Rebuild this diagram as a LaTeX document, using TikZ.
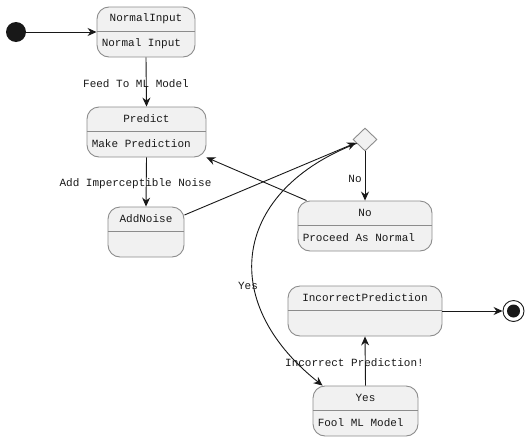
\documentclass[tikz,border=0pt]{standalone}
\usepackage{fontspec}
\setmonofont{Liberation Mono}
\usetikzlibrary{shapes.geometric,arrows.meta}
\definecolor{boxfill}{HTML}{F1F1F1}
\definecolor{boxline}{HTML}{8C8C8C}
\definecolor{ink}{HTML}{181818}
\tikzset{
  statebox/.style={draw=boxline,fill=boxfill,line width=0.9pt,rounded corners=12pt,inner sep=0pt},
  sepline/.style={draw=boxline,line width=0.9pt},
  txt/.style={font=\ttfamily\fontsize{11}{13}\selectfont,text=ink,inner sep=0pt},
  arr/.style={draw=ink,line width=0.9pt,-{Stealth[length=9pt,width=8pt,inset=3pt]}},
  choice/.style={shape=diamond,draw=boxline,fill=boxfill,line width=0.9pt,minimum width=24pt,minimum height=23pt,inner sep=0pt},
}
\newcommand{\mystate}[7]{%
  % #1 name, #2 cx, #3 cy, #4 w, #5 h, #6 title, #7 body
  \node[statebox,minimum width=#4pt,minimum height=#5pt] (#1) at (#2,#3) {};
  \draw[sepline] ([yshift=-25pt]#1.north west) -- ([yshift=-25pt]#1.north east);
  \node[txt] at ([yshift=-12.5pt]#1.north) {#6};
  \node[txt,anchor=west] at ([xshift=5pt,yshift=-37.5pt]#1.north west) {#7};
}
\begin{document}
\begin{tikzpicture}[x=1pt,y=-1pt]
\useasboundingbox (0,0) rectangle (529,442);
% start and end
\node[circle,fill=ink,minimum size=20pt,inner sep=0pt] (start) at (16,32) {};
\node[circle,draw=ink,line width=0.9pt,minimum size=21pt,inner sep=0pt] (end) at (513.5,311) {};
\node[circle,fill=ink,minimum size=13pt,inner sep=0pt] (endin) at (513.5,311) {};
% states
\mystate{NI}{146}{32}{98}{50}{NormalInput}{Normal Input}
\mystate{P}{146.5}{132}{119}{50}{Predict}{Make Prediction}
\mystate{AN}{146}{232}{76}{50}{AddNoise}{}
\mystate{No}{365}{226}{134}{50}{No}{Proceed As Normal}
\mystate{IP}{365}{311}{154}{50}{IncorrectPrediction}{}
\mystate{Yes}{365.5}{411}{105}{50}{Yes}{Fool ML Model}
\node[choice] (D) at (365,139.5) {};
% connectors
\draw[arr] (start) -- (NI.west);
\draw[arr] (NI.south) -- (P.north);
\draw[arr] (P.south) -- (AN.north);
\draw[arr] ([yshift=17pt]AN.east) -- (D.200);
\draw[arr] (D.south) -- (No.north);
\draw[arr] ([xshift=9pt]No.north west) -- (P.south east);
\draw[arr] (D.205) .. controls (235,190) and (215,300) .. ([xshift=10pt]Yes.north west);
\draw[arr] (Yes.north) -- (IP.south);
\draw[arr] (IP.east) -- (end);
% labels
\node[txt] (l1) at (136,84) {Feed To ML Model};
\node[txt] (l2) at (135.5,184) {Add Imperceptible Noise};
\node[txt] (l3) at (355,179) {No};
\node[txt] (l4) at (248,286) {Yes};
\node[txt] (l5) at (354.5,363) {Incorrect Prediction!};
\end{tikzpicture}
\end{document}
